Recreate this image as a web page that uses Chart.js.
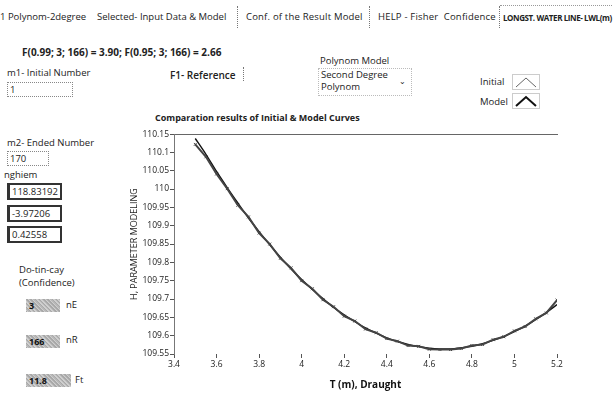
<!DOCTYPE html>
<html>
<head>
<meta charset="utf-8">
<script src="https://cdn.jsdelivr.net/npm/chart.js@4.4.1/dist/chart.umd.min.js"></script>
<style>
  body { margin: 0; width: 613px; height: 397px; background: #fff; overflow: hidden;
         font-family: "Open Sans", "Noto Sans", sans-serif; color: #222; position: relative; }
  .t { position: absolute; white-space: nowrap; font-size: 9.5px; line-height: 12px; }
  .b { font-weight: bold; }
  .sep { position: absolute; top: 6px; height: 22px; border-left: 1px dotted #777; }
  .box { position: absolute; border: 1px dotted #888; font-size: 9.5px; line-height: 13px; padding-left: 2px; }
  .num { position: absolute; border: 2px solid #333; border-left-width: 3px; font-size: 9.5px;
         line-height: 13px; padding-left: 2px; background: #fff; }
  .gray { position: absolute; height: 13px;
          background: repeating-linear-gradient(45deg, #a8a8a8 0 1px, #cfcfcf 1px 2px, #b8b8b8 2px 3px);
          font-size: 9px; font-weight: bold; line-height: 13px; padding-left: 3px; color: #111; }
  #wrap { position: absolute; left: 129px; top: 128px; width: 438px; height: 269px; }
</style>
</head>
<body>
<div class="t" style="left:0;top:11px">1 Polynom-2degree</div>
<div class="t" style="left:97px;top:11px">Selected- Input Data &amp; Model</div>
<div class="sep" style="left:237px"></div>
<div class="t" style="left:246px;top:11px;letter-spacing:0.2px">Conf. of the Result Model</div>
<div class="sep" style="left:369px"></div>
<div class="t" style="left:378px;top:11px;letter-spacing:0.2px">HELP - Fisher&nbsp; Confidence</div>
<div class="sep" style="left:499px"></div>
<div class="t b" style="left:503px;top:12px;font-size:8px;letter-spacing:-0.4px">LONGST. WATER LINE- LWL(m)</div>
<div style="position:absolute;left:500px;top:5px;width:112px;border-top:1px dotted #999"></div>

<div class="t b" style="left:22px;top:46px;font-size:10px">F(0.99; 3; 166) = 3.90; F(0.95; 3; 166) = 2.66</div>

<div class="t" style="left:7px;top:67px">m1- Initial Number</div>
<div class="box" style="left:7px;top:82px;width:62px;height:13px">1</div>
<div class="t" style="left:7px;top:137px">m2- Ended Number</div>
<div class="box" style="left:7px;top:151px;width:38px;height:13px">170</div>
<div class="t" style="left:4px;top:169px">nghiem</div>
<div class="num" style="left:7px;top:183px;width:48px;height:13px">118.83192</div>
<div class="num" style="left:7px;top:205px;width:48px;height:13px">-3.97206</div>
<div class="num" style="left:7px;top:226px;width:48px;height:13px">0.42558</div>
<div class="t" style="left:19px;top:264px">Do-tin-cay</div>
<div class="t" style="left:19px;top:277px">(Confidence)</div>
<div class="gray" style="left:26px;top:299px;width:31px">3</div>
<div class="t" style="left:66px;top:299px">nE</div>
<div class="gray" style="left:26px;top:335px;width:31px">166</div>
<div class="t" style="left:66px;top:334px">nR</div>
<div class="gray" style="left:26px;top:374px;width:42px">11.8</div>
<div class="t" style="left:75px;top:374px">Ft</div>

<div class="t" style="left:170px;top:69px;font-weight:600;font-size:10px">F1- Reference</div>
<div class="sep" style="left:243px;top:67px;height:14px"></div>
<div class="t" style="left:320px;top:55px">Polynom Model</div>
<div class="box" style="left:318px;top:68px;width:90px;height:26px;border-color:#bbb;line-height:12px">Second Degree<br>Polynom</div>
<div class="t" style="left:399px;top:75px;font-size:8px">&#8964;</div>
<div class="t" style="left:480px;top:76px">Initial</div>
<svg style="position:absolute;left:512px;top:74px" width="28" height="16">
  <rect x="0.5" y="0.5" width="27" height="15" fill="none" stroke="#999" stroke-dasharray="1,1"/>
  <polyline points="4,13 14,4 24,13" fill="none" stroke="#666" stroke-width="1"/>
</svg>
<div class="t" style="left:480px;top:96px">Model</div>
<svg style="position:absolute;left:512px;top:93px" width="28" height="16">
  <rect x="0.5" y="0.5" width="27" height="15" fill="none" stroke="#999" stroke-dasharray="1,1"/>
  <polyline points="4,13 14,4 24,13" fill="none" stroke="#111" stroke-width="2"/>
</svg>

<div class="t b" style="left:155px;top:112px;font-size:9px">Comparation results of Initial &amp; Model Curves</div>

<div id="wrap"><canvas id="c"></canvas></div>

<script>
// draught values (m)
const draught = [3.5, 3.55, 3.6, 3.65, 3.7, 3.75, 3.8, 3.85, 3.9, 3.95, 4.0, 4.05, 4.1, 4.15, 4.2, 4.25,
  4.3, 4.35, 4.4, 4.45, 4.5, 4.55, 4.6, 4.65, 4.7, 4.75, 4.8, 4.85, 4.9, 4.95, 5.0, 5.05, 5.1, 5.15, 5.2];
// measured (initial) curve
const initialH = [110.122, 110.088, 110.041, 110.001, 109.956, 109.924, 109.880, 109.850, 109.811, 109.785,
  109.750, 109.728, 109.698, 109.679, 109.653, 109.640, 109.618, 109.608, 109.592, 109.585, 109.573,
  109.571, 109.563, 109.562, 109.562, 109.565, 109.573, 109.576, 109.589, 109.597, 109.613, 109.625,
  109.646, 109.662, 109.697];
// second degree model curve
const modelH = [110.138, 110.095, 110.048, 110.004, 109.962, 109.921, 109.884, 109.848, 109.814, 109.782,
  109.753, 109.726, 109.701, 109.677, 109.657, 109.638, 109.621, 109.607, 109.594, 109.584, 109.576,
  109.570, 109.566, 109.564, 109.564, 109.567, 109.571, 109.578, 109.587, 109.598, 109.611, 109.626,
  109.644, 109.663, 109.685];
const xTicks = [3.4, 3.6, 3.8, 4, 4.2, 4.4, 4.6, 4.8, 5, 5.2];
const yTicks = [109.55, 109.6, 109.65, 109.7, 109.75, 109.8, 109.85, 109.9, 109.95, 110, 110.05, 110.1, 110.15];

const pts = arr => draught.map((x, i) => ({ x: x, y: arr[i] }));
const fmt = v => String(parseFloat(Number(v).toFixed(2)));
const tickFont = { family: '"Open Sans", sans-serif', size: 8.5 };

new Chart(document.getElementById('c'), {
    type: 'scatter',
    data: {
        datasets: [{
            label: 'Initial',
            data: pts(initialH),
            showLine: true,
            borderColor: '#444',
            backgroundColor: '#444',
            borderWidth: 2,
            pointStyle: 'crossRot',
            pointRadius: 2,
            pointBorderWidth: 1
        }, {
            label: 'Model',
            data: pts(modelH),
            showLine: true,
            borderColor: '#111',
            borderWidth: 1.4,
            pointRadius: 0,
            tension: 0.3
        }]
    },
    options: {
        responsive: true,
        maintainAspectRatio: false,
        animation: false,
        layout: { padding: { top: 6, right: 10, left: 0, bottom: 0 } },
        scales: {
            x: {
                type: 'linear', min: 3.4, max: 5.2,
                afterBuildTicks: s => { s.ticks = xTicks.map(v => ({ value: v })); },
                afterFit: s => { s.height = 43; },
                ticks: { callback: fmt, font: tickFont, color: '#222', padding: 1, maxRotation: 0 },
                grid: { drawOnChartArea: false, tickLength: 4, tickColor: '#555' },
                border: { display: false },
                title: { display: true, text: 'T (m), Draught', color: '#111', padding: { top: 0, bottom: 6 },
                         font: { family: '"Open Sans", sans-serif', size: 10, weight: 'bold' } }
            },
            x2: {
                type: 'linear', position: 'top', min: 3.4, max: 5.2,
                ticks: { display: false },
                grid: { drawOnChartArea: false, drawTicks: false },
                border: { display: true, color: '#666', width: 1, dash: [2, 2] },
                afterFit: s => { s.height = 0; }
            },
            y: {
                min: 109.55, max: 110.15,
                afterBuildTicks: s => { s.ticks = yTicks.map(v => ({ value: v })); },
                afterFit: s => { s.width = 45; },
                ticks: { callback: fmt, font: tickFont, color: '#222', padding: 1 },
                grid: { drawOnChartArea: false, tickLength: 4, tickColor: '#555' },
                border: { display: true, color: '#777', dash: [1, 2] },
                title: { display: true, text: 'H, PARAMETER MODELING', color: '#222', padding: 0,
                         font: { family: '"Open Sans", sans-serif', size: 9 } }
            }
        },
        plugins: {
            legend: { display: false },
            tooltip: { enabled: false }
        }
    }
});
</script>
</body>
</html>
